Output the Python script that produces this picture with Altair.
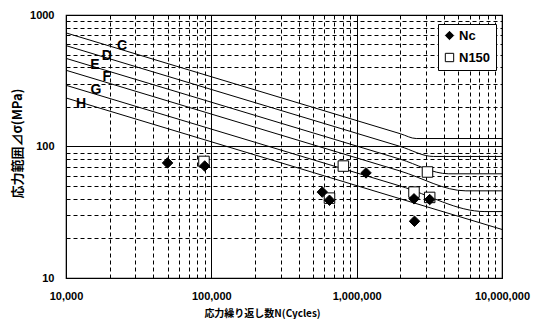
import altair as alt
import pandas as pd

# ---- design curves (stress range vs cycles), node values ----
curve_classes = ["C", "D", "E", "F", "G", "H"]
curve_C_N = [10000, 2000000, 2570000, 10000000]
curve_C_S = [731, 125, 115, 115]
curve_D_N = [10000, 2000000, 3370000, 10000000]
curve_D_S = [585, 100, 84, 84]
curve_E_N = [10000, 2000000, 4300000, 10000000]
curve_E_S = [468, 80, 62, 62]
curve_F_N = [10000, 2000000, 5640000, 10000000]
curve_F_S = [380, 65, 46, 46]
curve_G_N = [10000, 2000000, 7630000, 10000000]
curve_G_S = [292, 50, 32, 32]
curve_H_N = [10000, 2000000, 10000000]
curve_H_S = [234, 40, 23.4]

# ---- curve labels ----
label_text = ["C", "D", "E", "F", "G", "H"]
label_N = [24300, 19100, 15800, 19100, 16100, 12700]
label_S = [584, 490, 414, 336, 267, 210]

# ---- test data ----
n150_N = [89000, 650000, 810000, 2480000, 3070000, 3180000]
n150_S = [77, 40.5, 71, 45, 64, 41]
nc_N = [50000, 90000, 580000, 650000, 1160000, 2480000, 2500000, 3180000]
nc_S = [75, 71, 45, 39, 63, 40, 27, 39.5]

series_names = ["Nc", "N150"]

# ---- axis tick values ----
x_ticks = [m * 10 ** e for e in (4, 5, 6) for m in range(1, 10)] + [10 ** 7]
y_ticks = [m * 10 ** e for e in (1, 2) for m in range(1, 10)] + [1000]

curve_nodes = {
    "C": (curve_C_N, curve_C_S), "D": (curve_D_N, curve_D_S),
    "E": (curve_E_N, curve_E_S), "F": (curve_F_N, curve_F_S),
    "G": (curve_G_N, curve_G_S), "H": (curve_H_N, curve_H_S),
}
rows = []
for c in curve_classes:
    ns, ss = curve_nodes[c]
    for i, (n, s) in enumerate(zip(ns, ss)):
        rows.append({"cls": c, "N": n, "S": s, "i": i})
curves_df = pd.DataFrame(rows)

pts_df = pd.DataFrame(
    [{"series": "N150", "N": n, "S": s} for n, s in zip(n150_N, n150_S)]
    + [{"series": "Nc", "N": n, "S": s} for n, s in zip(nc_N, nc_S)]
)
labels_df = pd.DataFrame({"t": label_text, "N": label_N, "S": label_S})

decade = "abs(log(datum.value)/LN10 - round(log(datum.value)/LN10)) < 0.001"
grid_dash = {"condition": {"test": decade, "value": []}, "value": [4, 3]}

x_axis = alt.Axis(
    values=x_ticks, labelExpr=f"{decade} ? format(datum.value, ',') : ''",
    grid=True, gridColor="black", gridWidth=1, gridOpacity=1, gridDash=grid_dash,
    ticks=False, domain=False, labelFlush=False, labelOverlap=False,
    labelFont="Liberation Sans", labelFontWeight="bold", labelFontSize=11,
    labelColor="black", labelPadding=12,
    title="応力繰り返し数N(Cycles)", titleFont="Noto Sans CJK JP",
    titleFontSize=10, titleFontWeight="bold", titleColor="black",
    titleX=196, titleY=35, titleAlign="center", titleBaseline="middle",
)
y_axis = alt.Axis(
    values=y_ticks, labelExpr=f"{decade} ? format(datum.value, 'd') : ''",
    grid=True, gridColor="black", gridWidth=1, gridOpacity=1, gridDash=grid_dash,
    ticks=False, domain=False, labelFlush=False, labelOverlap=False,
    labelFont="Liberation Sans", labelFontWeight="bold", labelFontSize=11,
    labelColor="black", labelPadding=12,
    title="応力範囲⊿σ(MPa)", titleFont="Noto Sans CJK JP",
    titleFontSize=13, titleFontWeight="bold", titleColor="black",
    titleX=-49, titleY=128, titleAngle=270, titleAlign="center", titleBaseline="middle",
)

x_scale = alt.Scale(type="log", domain=[10000, 10000000], nice=False)
y_scale = alt.Scale(type="log", domain=[10, 1000], nice=False)

curves = alt.Chart(curves_df).mark_line(
    color="black", strokeWidth=1, interpolate="monotone"
).encode(
    x=alt.X("N:Q", scale=x_scale, axis=x_axis),
    y=alt.Y("S:Q", scale=y_scale, axis=y_axis),
    detail="cls:N",
    order="i:Q",
)

legend = alt.Legend(
    title=None, orient="none", legendX=372, legendY=9,
    fillColor="white", strokeColor="black", padding=5, cornerRadius=0,
    labelFont="Liberation Sans", labelFontWeight="bold", labelFontSize=13,
    labelColor="black", symbolSize=70, symbolStrokeWidth=1,
    rowPadding=8, labelOffset=3,
)

points = alt.Chart(pts_df).mark_point(
    filled=True, strokeWidth=1, size=110, opacity=1
).encode(
    x=alt.X("N:Q", scale=x_scale, axis=x_axis),
    y=alt.Y("S:Q", scale=y_scale, axis=y_axis),
    shape=alt.Shape("series:N", scale=alt.Scale(domain=series_names, range=["diamond", "square"]), legend=legend),
    fill=alt.Fill("series:N", scale=alt.Scale(domain=series_names, range=["black", "white"]), legend=legend),
    stroke=alt.Stroke("series:N", scale=alt.Scale(domain=series_names, range=["black", "black"]), legend=legend),
)

labels = alt.Chart(labels_df).mark_text(
    font="Liberation Sans", fontWeight="bold", fontSize=14, color="black",
    align="center", baseline="middle",
).encode(
    x=alt.X("N:Q", scale=x_scale, axis=x_axis),
    y=alt.Y("S:Q", scale=y_scale, axis=y_axis),
    text="t:N",
)

chart = alt.layer(curves, points, labels).properties(
    width=436, height=263,
    padding={"left": 58, "top": 7, "right": 38, "bottom": 41},
    autosize=alt.AutoSizeParams(type="none"),
    background="white",
).configure_view(stroke="black", strokeWidth=1.2)

chart.save("out.html", embed_options={"renderer": "svg", "actions": False})
